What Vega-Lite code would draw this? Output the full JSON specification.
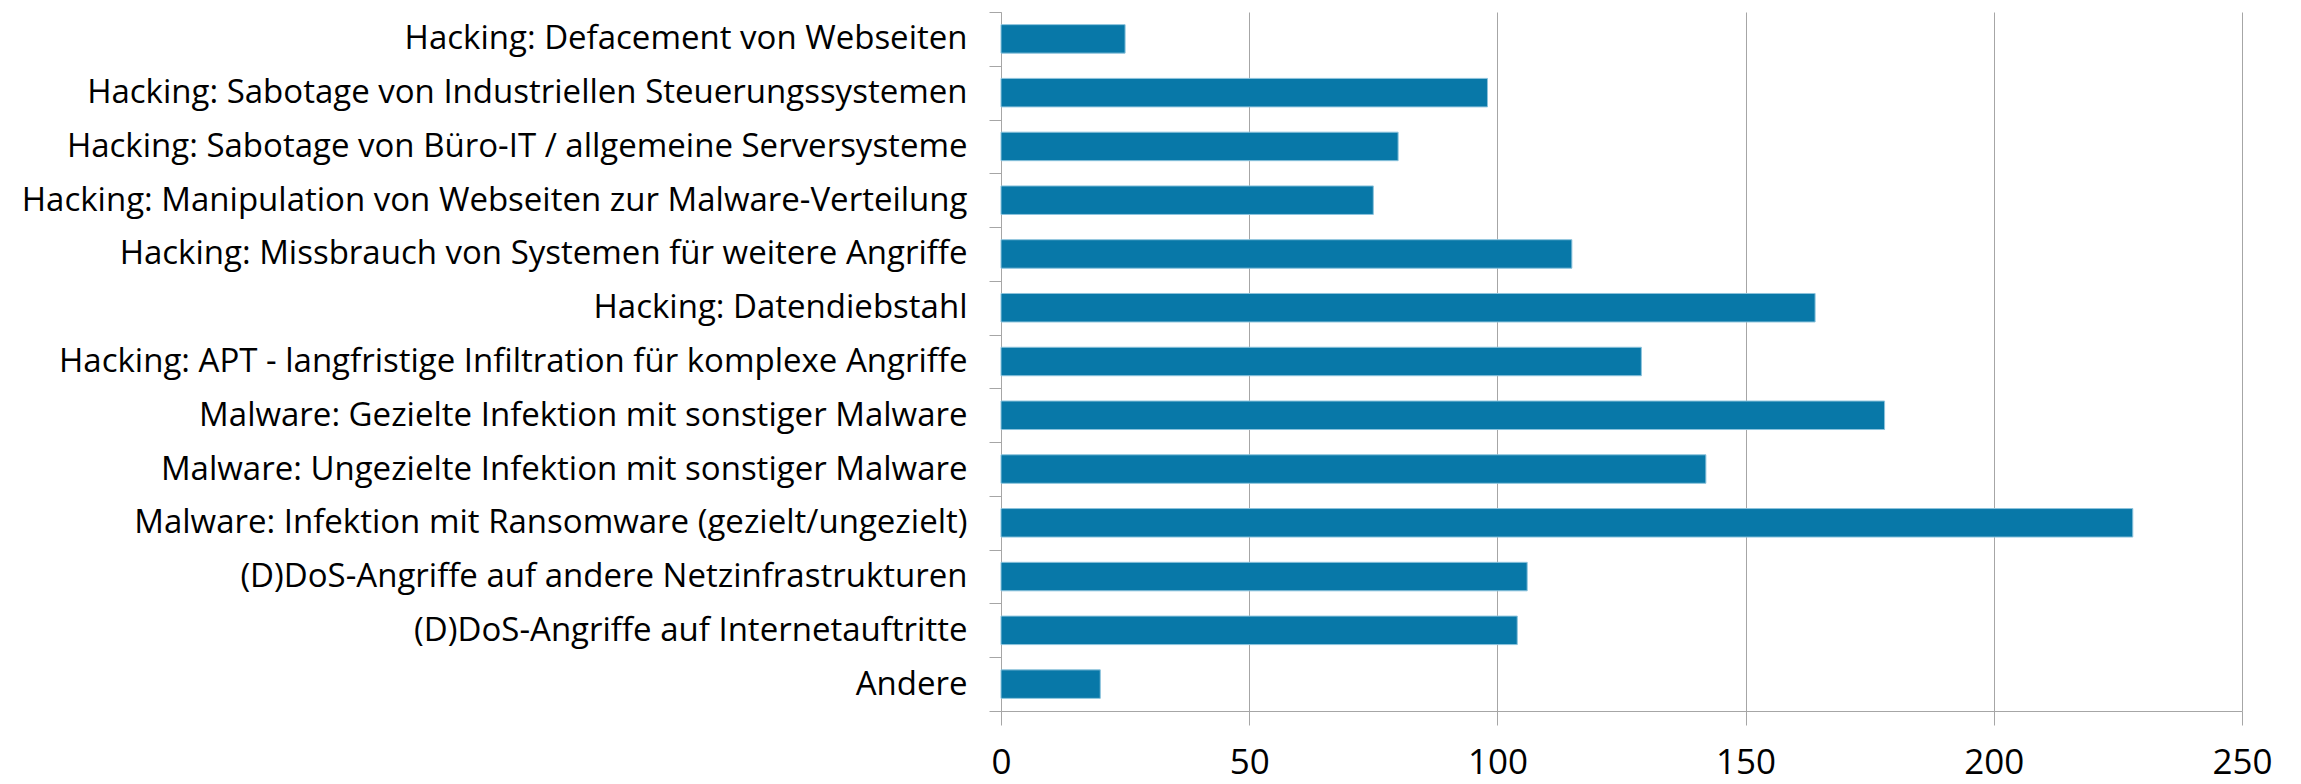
{
  "$schema": "https://vega.github.io/schema/vega-lite/v6.json",
  "width": 1241,
  "height": 699,
  "autosize": {"type": "none"},
  "padding": {"left": 1001, "top": 12, "right": 59, "bottom": 73},
  "background": "white",
  "data": {
    "values": [
      {"kategorie": "Hacking: Defacement von Webseiten", "anzahl": 25},
      {"kategorie": "Hacking: Sabotage von Industriellen Steuerungssystemen", "anzahl": 98},
      {"kategorie": "Hacking: Sabotage von Büro-IT / allgemeine Serversysteme", "anzahl": 80},
      {"kategorie": "Hacking: Manipulation von Webseiten zur Malware-Verteilung", "anzahl": 75},
      {"kategorie": "Hacking: Missbrauch von Systemen für weitere Angriffe", "anzahl": 115},
      {"kategorie": "Hacking: Datendiebstahl", "anzahl": 164},
      {"kategorie": "Hacking: APT - langfristige Infiltration für komplexe Angriffe", "anzahl": 129},
      {"kategorie": "Malware: Gezielte Infektion mit sonstiger Malware", "anzahl": 178},
      {"kategorie": "Malware: Ungezielte Infektion mit sonstiger Malware", "anzahl": 142},
      {"kategorie": "Malware: Infektion mit Ransomware (gezielt/ungezielt)", "anzahl": 228},
      {"kategorie": "(D)DoS-Angriffe auf andere Netzinfrastrukturen", "anzahl": 106},
      {"kategorie": "(D)DoS-Angriffe auf Internetauftritte", "anzahl": 104},
      {"kategorie": "Andere", "anzahl": 20}
    ]
  },
  "mark": {"type": "bar", "color": "#0878a8", "stroke": "#8cc3dc", "strokeWidth": 1, "height": {"band": 0.53}},
  "encoding": {
    "y": {
      "field": "kategorie",
      "type": "nominal",
      "sort": null,
      "title": null,
      "scale": {"paddingInner": 0, "paddingOuter": 0},
      "axis": {
        "tickBand": "extent",
        "tickSize": 12,
        "tickColor": "#a6a6a6",
        "domainColor": "#a6a6a6",
        "labelPadding": 22,
        "labelFont": "Open Sans",
        "labelFontSize": 33,
        "labelColor": "#000000",
        "labelLimit": 1000,
        "grid": false
      }
    },
    "x": {
      "field": "anzahl",
      "type": "quantitative",
      "title": null,
      "scale": {"domain": [0, 250], "nice": false},
      "axis": {
        "values": [0, 50, 100, 150, 200, 250],
        "tickSize": 14,
        "tickColor": "#a6a6a6",
        "domainColor": "#a6a6a6",
        "gridColor": "#a6a6a6",
        "grid": true,
        "labelPadding": 20,
        "labelFont": "Open Sans",
        "labelFontSize": 35,
        "labelColor": "#000000",
        "labelFlush": false
      }
    }
  },
  "config": {"view": {"stroke": null}}
}
